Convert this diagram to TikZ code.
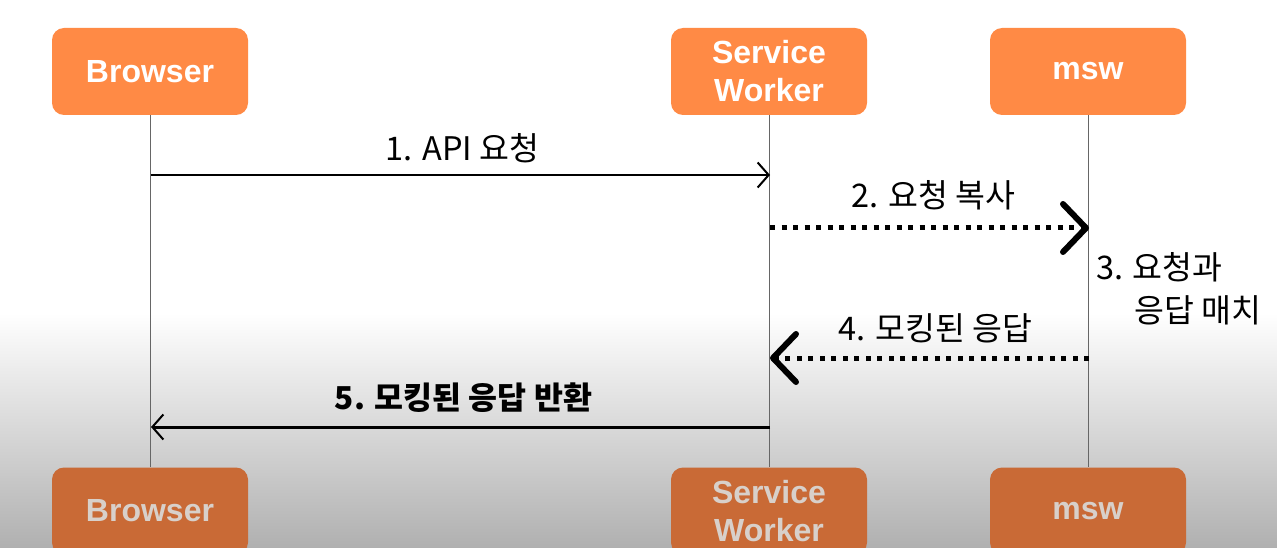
\documentclass[tikz,border=0pt]{standalone}
\usepackage{fontspec}
\setmainfont{Liberation Sans}
\newfontfamily\kr{Noto Sans CJK KR}
\usetikzlibrary{arrows.meta}
\definecolor{boxtop}{HTML}{FF8A45}
\definecolor{boxbot}{HTML}{C96A36}
\definecolor{txtbot}{HTML}{D8D0CA}
\definecolor{lifegray}{HTML}{666666}
\tikzset{
  actor/.style={rectangle, rounded corners=12pt, minimum width=196pt, minimum height=87pt,
    inner sep=0pt, align=center, font=\fontsize{32}{38}\selectfont\bfseries},
  actortop/.style={actor, fill=boxtop, text=white},
  actorbot/.style={actor, fill=boxbot, text=txtbot},
  lifeline/.style={draw=lifegray, line width=1pt},
  msgsolid/.style={draw=black, line width=2.2pt, -{Straight Barb[length=11pt,width=25pt,line width=2pt]}},
  msgsolidb/.style={msgsolid, line width=3pt},
  msgdot/.style={draw=black, line width=5pt, dash pattern=on 5pt off 6.5pt,
    -{Straight Barb[length=23pt,width=48pt,line width=6pt,round]}},
  msglabel/.style={font=\kr\fontsize{32.5}{38}\selectfont, inner sep=0pt},
  msglabelb/.style={font=\kr\bfseries\fontsize{31.5}{38}\selectfont, inner sep=0pt},
}
\begin{document}
\begin{tikzpicture}[x=1pt,y=-1pt]
\useasboundingbox (0,0) rectangle (1277,548);
\clip (0,0) rectangle (1277,548);
\fill[white] (0,0) rectangle (1277,313);
\shade[top color=white, bottom color={black!31}] (0,313) rectangle (1277,548);

% actors
\node[actortop] (B) at (150,71.5) {Browser};
\node[actortop] (S) at (769,71.5) {Service\\Worker};
\node[actortop] (M) at (1088,71.5) {msw};
\node[actorbot] (B2) at (150,511) {Browser};
\node[actorbot] (S2) at (769,511) {Service\\Worker};
\node[actorbot] (M2) at (1088,511) {msw};

% lifelines
\draw[lifeline] (B.south) -- (B2.north);
\draw[lifeline] (S.south) -- (S2.north);
\draw[lifeline] (M.south) -- (M2.north);

% message points
\coordinate (b1) at (151,175);
\coordinate (s1) at (770,175);
\coordinate (s2) at (770,228);
\coordinate (m2) at (1089,228);
\coordinate (m4) at (1089,358);
\coordinate (s4) at (770,358);
\coordinate (s5) at (770,427);
\coordinate (b5) at (151,427);

\draw[msgsolid] (b1) -- (s1) node[msglabel, midway, yshift=27pt, xshift=2pt] (l1) {1. API 요청};
\draw[msgdot] (s2) -- (m2) node[msglabel, midway, yshift=33pt, xshift=4pt] (l2) {2. 요청 복사};
\draw[msgdot] (m4) -- (s4) node[msglabel, midway, yshift=30pt, xshift=6pt] (l4) {4. 모킹된 응답};
\draw[msgsolidb] (s5) -- (b5) node[msglabelb, midway, yshift=29pt, xshift=3pt] (l5) {5. 모킹된 응답 반환};

\node[msglabel, anchor=north west, align=left] (l3) at (1096,252)
  {3. 요청과\\[5pt]\hspace{38pt}응답 매치};
\end{tikzpicture}
\end{document}
